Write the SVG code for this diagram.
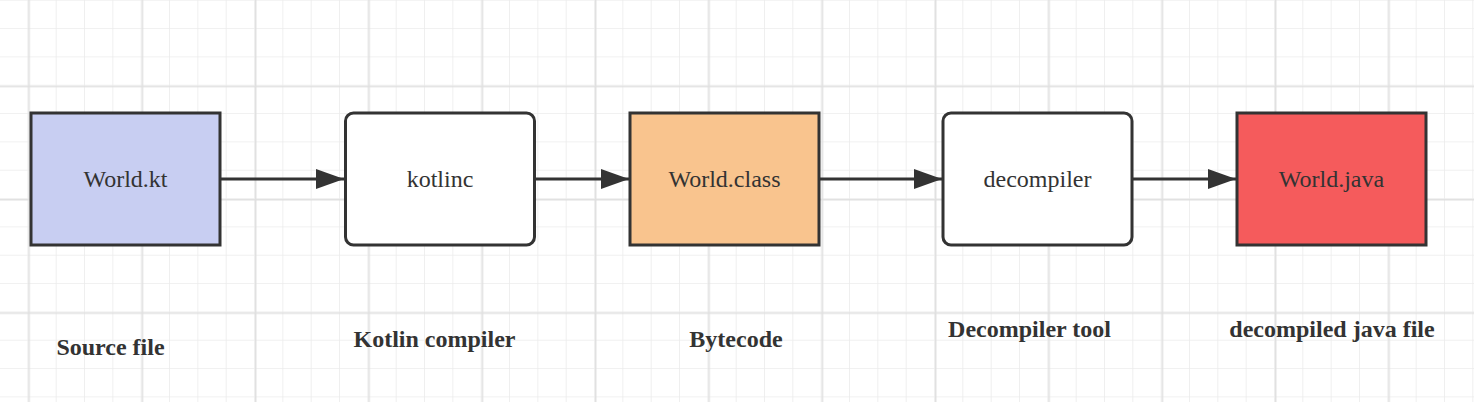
<svg xmlns="http://www.w3.org/2000/svg" width="1474" height="402" viewBox="0 0 1474 402">
<style>
.box{stroke:#333;stroke-width:3}
.t{font-family:"Liberation Serif","Times New Roman",serif;font-size:24px;fill:#333;text-anchor:middle}
.lbl{font-family:"Liberation Serif","Times New Roman",serif;font-size:24px;font-weight:bold;fill:#333;text-anchor:middle}
.conn{stroke:#333;stroke-width:3;fill:none}
</style>
<defs>
<pattern id="minor" width="28.333" height="28.333" patternUnits="userSpaceOnUse" x="0" y="0.7">
<path d="M28.333 0V28.333M0 28.333H28.333" fill="none" stroke="#ebebeb" stroke-width="1.5"/>
</pattern>
<pattern id="major" width="113.333" height="113.333" patternUnits="userSpaceOnUse" x="28.3" y="85.7">
<path d="M0.75 0V113.333M0 0.75H113.333" fill="none" stroke="#e0e0e0" stroke-width="1.5"/>
</pattern>
<marker id="arr" markerUnits="userSpaceOnUse" markerWidth="30" markerHeight="22" refX="28" refY="10" orient="auto">
<path d="M0,0 L28,10 L0,20 z" fill="#333"/>
</marker>
</defs>
<rect width="1474" height="402" fill="#fff"/>
<rect width="1474" height="402" fill="url(#minor)"/>
<rect width="1474" height="402" fill="url(#major)"/>
<g id="connectors">
<line class="conn" x1="220" y1="179" x2="344" y2="179" marker-end="url(#arr)"/>
<line class="conn" x1="535" y1="179" x2="629" y2="179" marker-end="url(#arr)"/>
<line class="conn" x1="819" y1="179" x2="942" y2="179" marker-end="url(#arr)"/>
<line class="conn" x1="1132" y1="179" x2="1236" y2="179" marker-end="url(#arr)"/>
</g>
<g id="node-world-kt">
<rect class="box" x="31" y="113" width="189" height="132" fill="#c8cef2"/>
<text class="t" x="125.5" y="187">World.kt</text>
</g>
<g id="node-kotlinc">
<rect class="box" x="345.5" y="113" width="189" height="132" rx="8" fill="#fff"/>
<text class="t" x="440" y="187">kotlinc</text>
</g>
<g id="node-world-class">
<rect class="box" x="630" y="113" width="189" height="132" fill="#f9c48e"/>
<text class="t" x="724.5" y="187">World.class</text>
</g>
<g id="node-decompiler">
<rect class="box" x="943" y="113" width="189" height="132" rx="8" fill="#fff"/>
<text class="t" x="1037.5" y="187">decompiler</text>
</g>
<g id="node-world-java">
<rect class="box" x="1237" y="113" width="189" height="132" fill="#f55b5c"/>
<text class="t" x="1331.5" y="187">World.java</text>
</g>
<g id="labels">
<text class="lbl" x="110.5" y="355">Source file</text>
<text class="lbl" x="434.5" y="347">Kotlin compiler</text>
<text class="lbl" x="736" y="347">Bytecode</text>
<text class="lbl" x="1029.5" y="337">Decompiler tool</text>
<text class="lbl" x="1332" y="337">decompiled java file</text>
</g>
</svg>
